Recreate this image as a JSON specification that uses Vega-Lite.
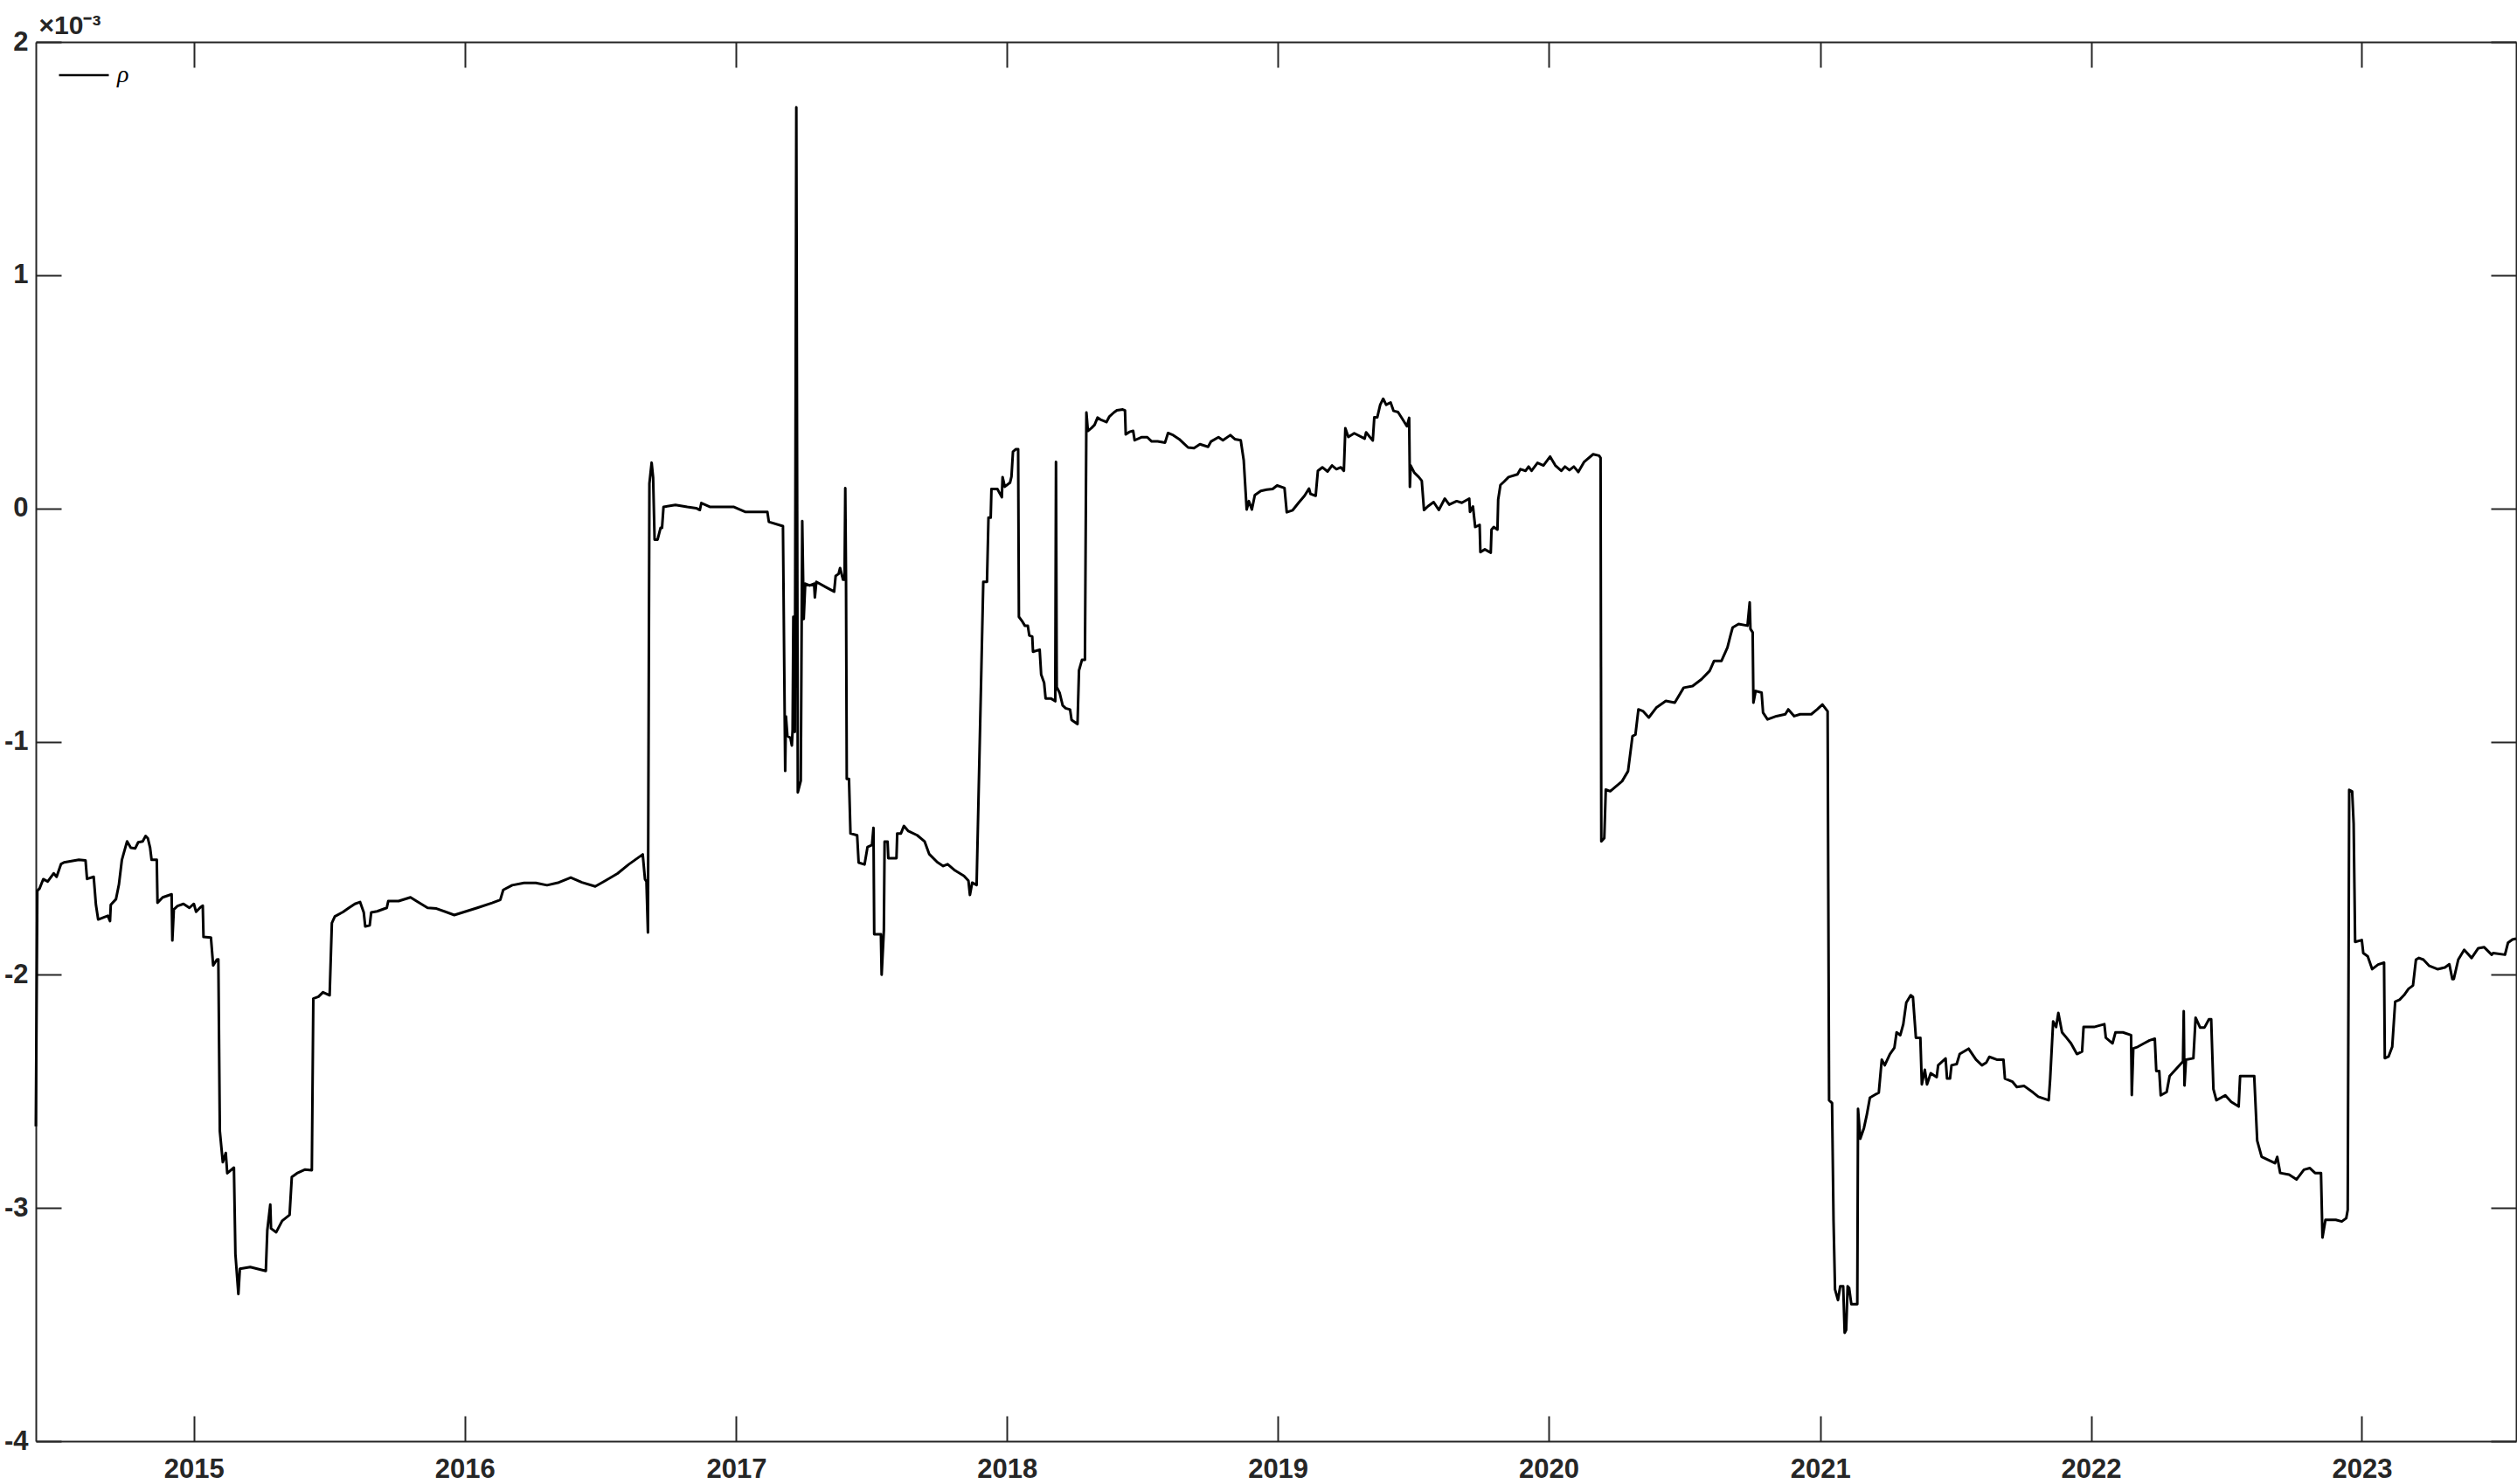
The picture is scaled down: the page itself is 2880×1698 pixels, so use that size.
{
  "$schema": "https://vega.github.io/schema/vega-lite/v6.json",
  "width": 2838,
  "height": 1601,
  "autosize": {"type": "none"},
  "padding": {"left": 41, "top": 48, "right": 1, "bottom": 49},
  "background": "white",
  "config": {"view": {"stroke": null}, "font": "Liberation Sans"},
  "data": {
    "values": [
      {"date": "2014-06-02", "rho": -2.65}, {"date": "2014-06-04", "rho": -1.64}, {"date": "2014-06-07", "rho": -1.63}, {"date": "2014-06-12", "rho": -1.59}, {"date": "2014-06-18", "rho": -1.6}, {"date": "2014-06-26", "rho": -1.565}, {"date": "2014-06-30", "rho": -1.58}, {"date": "2014-07-06", "rho": -1.525}, {"date": "2014-07-10", "rho": -1.518}, {"date": "2014-07-30", "rho": -1.507}, {"date": "2014-08-08", "rho": -1.51}, {"date": "2014-08-10", "rho": -1.589}, {"date": "2014-08-19", "rho": -1.58}, {"date": "2014-08-22", "rho": -1.7}, {"date": "2014-08-25", "rho": -1.763}, {"date": "2014-09-07", "rho": -1.747}, {"date": "2014-09-10", "rho": -1.77}, {"date": "2014-09-11", "rho": -1.7}, {"date": "2014-09-18", "rho": -1.676}, {"date": "2014-09-22", "rho": -1.613}, {"date": "2014-09-26", "rho": -1.507}, {"date": "2014-10-03", "rho": -1.428}, {"date": "2014-10-08", "rho": -1.455}, {"date": "2014-10-14", "rho": -1.458}, {"date": "2014-10-18", "rho": -1.432}, {"date": "2014-10-24", "rho": -1.428}, {"date": "2014-10-28", "rho": -1.405}, {"date": "2014-10-31", "rho": -1.415}, {"date": "2014-11-03", "rho": -1.455}, {"date": "2014-11-05", "rho": -1.507}, {"date": "2014-11-12", "rho": -1.507}, {"date": "2014-11-13", "rho": -1.691}, {"date": "2014-11-20", "rho": -1.668}, {"date": "2014-12-02", "rho": -1.655}, {"date": "2014-12-03", "rho": -1.853}, {"date": "2014-12-05", "rho": -1.72}, {"date": "2014-12-10", "rho": -1.705}, {"date": "2014-12-18", "rho": -1.696}, {"date": "2014-12-26", "rho": -1.713},
      {"date": "2015-01-01", "rho": -1.696}, {"date": "2015-01-04", "rho": -1.73}, {"date": "2015-01-10", "rho": -1.71}, {"date": "2015-01-13", "rho": -1.704}, {"date": "2015-01-14", "rho": -1.838}, {"date": "2015-01-24", "rho": -1.84}, {"date": "2015-01-27", "rho": -1.96}, {"date": "2015-02-01", "rho": -1.935}, {"date": "2015-02-03", "rho": -1.934}, {"date": "2015-02-05", "rho": -2.67}, {"date": "2015-02-09", "rho": -2.804}, {"date": "2015-02-13", "rho": -2.764}, {"date": "2015-02-15", "rho": -2.851}, {"date": "2015-02-24", "rho": -2.827}, {"date": "2015-02-26", "rho": -3.198}, {"date": "2015-03-02", "rho": -3.369}, {"date": "2015-03-04", "rho": -3.261}, {"date": "2015-03-18", "rho": -3.253}, {"date": "2015-04-08", "rho": -3.27}, {"date": "2015-04-10", "rho": -3.096}, {"date": "2015-04-14", "rho": -2.985}, {"date": "2015-04-15", "rho": -3.088}, {"date": "2015-04-22", "rho": -3.104}, {"date": "2015-04-30", "rho": -3.055}, {"date": "2015-05-10", "rho": -3.03}, {"date": "2015-05-13", "rho": -2.867}, {"date": "2015-05-20", "rho": -2.851}, {"date": "2015-05-31", "rho": -2.835}, {"date": "2015-06-09", "rho": -2.838}, {"date": "2015-06-11", "rho": -2.102}, {"date": "2015-06-18", "rho": -2.094}, {"date": "2015-06-24", "rho": -2.075}, {"date": "2015-07-03", "rho": -2.088}, {"date": "2015-07-06", "rho": -1.778}, {"date": "2015-07-10", "rho": -1.75}, {"date": "2015-07-21", "rho": -1.731}, {"date": "2015-07-29", "rho": -1.713}, {"date": "2015-08-06", "rho": -1.696}, {"date": "2015-08-13", "rho": -1.688}, {"date": "2015-08-18", "rho": -1.733}, {"date": "2015-08-20", "rho": -1.793}, {"date": "2015-08-26", "rho": -1.788}, {"date": "2015-08-28", "rho": -1.733}, {"date": "2015-09-05", "rho": -1.728}, {"date": "2015-09-18", "rho": -1.713}, {"date": "2015-09-20", "rho": -1.684}, {"date": "2015-10-04", "rho": -1.684}, {"date": "2015-10-20", "rho": -1.668}, {"date": "2015-10-28", "rho": -1.684}, {"date": "2015-11-12", "rho": -1.713}, {"date": "2015-11-24", "rho": -1.716}, {"date": "2015-12-18", "rho": -1.744},
      {"date": "2016-01-18", "rho": -1.713}, {"date": "2016-02-07", "rho": -1.692}, {"date": "2016-02-18", "rho": -1.679}, {"date": "2016-02-22", "rho": -1.636}, {"date": "2016-03-05", "rho": -1.616}, {"date": "2016-03-21", "rho": -1.606}, {"date": "2016-04-06", "rho": -1.606}, {"date": "2016-04-21", "rho": -1.616}, {"date": "2016-05-07", "rho": -1.604}, {"date": "2016-05-23", "rho": -1.583}, {"date": "2016-06-07", "rho": -1.604}, {"date": "2016-06-25", "rho": -1.621}, {"date": "2016-07-09", "rho": -1.596}, {"date": "2016-07-25", "rho": -1.566}, {"date": "2016-08-09", "rho": -1.527}, {"date": "2016-08-28", "rho": -1.484}, {"date": "2016-08-31", "rho": -1.59}, {"date": "2016-09-02", "rho": -1.6}, {"date": "2016-09-04", "rho": -1.819}, {"date": "2016-09-06", "rho": 0.107}, {"date": "2016-09-09", "rho": 0.196}, {"date": "2016-09-11", "rho": 0.132}, {"date": "2016-09-13", "rho": -0.134}, {"date": "2016-09-17", "rho": -0.134}, {"date": "2016-09-21", "rho": -0.084}, {"date": "2016-09-23", "rho": -0.084}, {"date": "2016-09-25", "rho": 0.006}, {"date": "2016-10-11", "rho": 0.015}, {"date": "2016-10-27", "rho": 0.006}, {"date": "2016-11-08", "rho": 0.001}, {"date": "2016-11-13", "rho": -0.007}, {"date": "2016-11-15", "rho": 0.023}, {"date": "2016-11-27", "rho": 0.006}, {"date": "2016-12-29", "rho": 0.006},
      {"date": "2017-01-13", "rho": -0.015}, {"date": "2017-01-29", "rho": -0.015}, {"date": "2017-02-12", "rho": -0.015}, {"date": "2017-02-14", "rho": -0.058}, {"date": "2017-03-05", "rho": -0.076}, {"date": "2017-03-08", "rho": -1.126}, {"date": "2017-03-09", "rho": -0.892}, {"date": "2017-03-11", "rho": -0.976}, {"date": "2017-03-15", "rho": -0.984}, {"date": "2017-03-17", "rho": -1.017}, {"date": "2017-03-18", "rho": -0.95}, {"date": "2017-03-19", "rho": -0.465}, {"date": "2017-03-21", "rho": -0.959}, {"date": "2017-03-23", "rho": 1.72}, {"date": "2017-03-25", "rho": -1.218}, {"date": "2017-03-29", "rho": -1.168}, {"date": "2017-03-31", "rho": -0.055}, {"date": "2017-04-02", "rho": -0.474}, {"date": "2017-04-04", "rho": -0.323}, {"date": "2017-04-10", "rho": -0.331}, {"date": "2017-04-16", "rho": -0.323}, {"date": "2017-04-17", "rho": -0.382}, {"date": "2017-04-19", "rho": -0.315}, {"date": "2017-05-03", "rho": -0.34}, {"date": "2017-05-13", "rho": -0.357}, {"date": "2017-05-15", "rho": -0.29}, {"date": "2017-05-19", "rho": -0.281}, {"date": "2017-05-21", "rho": -0.256}, {"date": "2017-05-25", "rho": -0.306}, {"date": "2017-05-27", "rho": -0.306}, {"date": "2017-05-28", "rho": 0.087}, {"date": "2017-05-29", "rho": -0.306}, {"date": "2017-05-30", "rho": -1.16}, {"date": "2017-06-02", "rho": -1.16}, {"date": "2017-06-04", "rho": -1.394}, {"date": "2017-06-13", "rho": -1.402}, {"date": "2017-06-15", "rho": -1.519}, {"date": "2017-06-23", "rho": -1.527}, {"date": "2017-06-27", "rho": -1.452}, {"date": "2017-07-03", "rho": -1.444}, {"date": "2017-07-05", "rho": -1.37}, {"date": "2017-07-06", "rho": -1.826}, {"date": "2017-07-15", "rho": -1.826}, {"date": "2017-07-16", "rho": -2.0}, {"date": "2017-07-19", "rho": -1.809}, {"date": "2017-07-20", "rho": -1.429}, {"date": "2017-07-24", "rho": -1.429}, {"date": "2017-07-25", "rho": -1.5}, {"date": "2017-08-05", "rho": -1.5}, {"date": "2017-08-06", "rho": -1.394}, {"date": "2017-08-11", "rho": -1.394}, {"date": "2017-08-15", "rho": -1.362}, {"date": "2017-08-21", "rho": -1.384}, {"date": "2017-09-02", "rho": -1.402}, {"date": "2017-09-12", "rho": -1.429}, {"date": "2017-09-18", "rho": -1.482}, {"date": "2017-09-29", "rho": -1.517}, {"date": "2017-10-07", "rho": -1.534}, {"date": "2017-10-13", "rho": -1.526}, {"date": "2017-10-23", "rho": -1.553}, {"date": "2017-11-04", "rho": -1.576}, {"date": "2017-11-10", "rho": -1.597}, {"date": "2017-11-12", "rho": -1.658}, {"date": "2017-11-15", "rho": -1.605}, {"date": "2017-11-21", "rho": -1.615}, {"date": "2017-11-30", "rho": -0.315}, {"date": "2017-12-05", "rho": -0.315}, {"date": "2017-12-07", "rho": -0.04}, {"date": "2017-12-10", "rho": -0.04}, {"date": "2017-12-11", "rho": 0.083}, {"date": "2017-12-19", "rho": 0.083}, {"date": "2017-12-25", "rho": 0.048}, {"date": "2017-12-26", "rho": 0.134}, {"date": "2017-12-29", "rho": 0.093},
      {"date": "2018-01-05", "rho": 0.11}, {"date": "2018-01-07", "rho": 0.136}, {"date": "2018-01-09", "rho": 0.243}, {"date": "2018-01-13", "rho": 0.254}, {"date": "2018-01-16", "rho": 0.254}, {"date": "2018-01-17", "rho": -0.465}, {"date": "2018-01-21", "rho": -0.482}, {"date": "2018-01-25", "rho": -0.503}, {"date": "2018-01-29", "rho": -0.503}, {"date": "2018-01-31", "rho": -0.545}, {"date": "2018-02-04", "rho": -0.55}, {"date": "2018-02-05", "rho": -0.615}, {"date": "2018-02-14", "rho": -0.606}, {"date": "2018-02-16", "rho": -0.712}, {"date": "2018-02-20", "rho": -0.748}, {"date": "2018-02-22", "rho": -0.815}, {"date": "2018-03-01", "rho": -0.815}, {"date": "2018-03-07", "rho": -0.827}, {"date": "2018-03-08", "rho": 0.199}, {"date": "2018-03-09", "rho": -0.766}, {"date": "2018-03-13", "rho": -0.792}, {"date": "2018-03-17", "rho": -0.845}, {"date": "2018-03-21", "rho": -0.857}, {"date": "2018-03-27", "rho": -0.863}, {"date": "2018-03-29", "rho": -0.907}, {"date": "2018-04-06", "rho": -0.925}, {"date": "2018-04-08", "rho": -0.695}, {"date": "2018-04-12", "rho": -0.65}, {"date": "2018-04-16", "rho": -0.65}, {"date": "2018-04-18", "rho": 0.411}, {"date": "2018-04-20", "rho": 0.332}, {"date": "2018-04-25", "rho": 0.345}, {"date": "2018-04-29", "rho": 0.358}, {"date": "2018-05-03", "rho": 0.389}, {"date": "2018-05-07", "rho": 0.381}, {"date": "2018-05-15", "rho": 0.37}, {"date": "2018-05-19", "rho": 0.394}, {"date": "2018-05-25", "rho": 0.411}, {"date": "2018-05-29", "rho": 0.42}, {"date": "2018-06-06", "rho": 0.424}, {"date": "2018-06-09", "rho": 0.42}, {"date": "2018-06-10", "rho": 0.317}, {"date": "2018-06-15", "rho": 0.328}, {"date": "2018-06-20", "rho": 0.332}, {"date": "2018-06-22", "rho": 0.292}, {"date": "2018-07-01", "rho": 0.305}, {"date": "2018-07-09", "rho": 0.305}, {"date": "2018-07-15", "rho": 0.287}, {"date": "2018-07-23", "rho": 0.287}, {"date": "2018-08-02", "rho": 0.282}, {"date": "2018-08-06", "rho": 0.323}, {"date": "2018-08-13", "rho": 0.314}, {"date": "2018-08-21", "rho": 0.297}, {"date": "2018-09-02", "rho": 0.261}, {"date": "2018-09-10", "rho": 0.258}, {"date": "2018-09-18", "rho": 0.275}, {"date": "2018-09-29", "rho": 0.264}, {"date": "2018-10-03", "rho": 0.287}, {"date": "2018-10-13", "rho": 0.305}, {"date": "2018-10-19", "rho": 0.292}, {"date": "2018-10-29", "rho": 0.314}, {"date": "2018-11-04", "rho": 0.297}, {"date": "2018-11-12", "rho": 0.292}, {"date": "2018-11-16", "rho": 0.207}, {"date": "2018-11-20", "rho": -0.005}, {"date": "2018-11-23", "rho": 0.031}, {"date": "2018-11-27", "rho": -0.005}, {"date": "2018-12-01", "rho": 0.057}, {"date": "2018-12-09", "rho": 0.075}, {"date": "2018-12-17", "rho": 0.08}, {"date": "2018-12-25", "rho": 0.083}, {"date": "2018-12-31", "rho": 0.098},
      {"date": "2019-01-10", "rho": 0.087}, {"date": "2019-01-13", "rho": -0.017}, {"date": "2019-01-21", "rho": -0.008}, {"date": "2019-01-29", "rho": 0.024}, {"date": "2019-02-06", "rho": 0.054}, {"date": "2019-02-12", "rho": 0.085}, {"date": "2019-02-14", "rho": 0.062}, {"date": "2019-02-21", "rho": 0.054}, {"date": "2019-02-24", "rho": 0.161}, {"date": "2019-03-02", "rho": 0.176}, {"date": "2019-03-09", "rho": 0.158}, {"date": "2019-03-15", "rho": 0.184}, {"date": "2019-03-21", "rho": 0.168}, {"date": "2019-03-27", "rho": 0.176}, {"date": "2019-03-31", "rho": 0.161}, {"date": "2019-04-02", "rho": 0.344}, {"date": "2019-04-06", "rho": 0.306}, {"date": "2019-04-14", "rho": 0.322}, {"date": "2019-04-28", "rho": 0.299}, {"date": "2019-04-30", "rho": 0.326}, {"date": "2019-05-05", "rho": 0.306}, {"date": "2019-05-09", "rho": 0.291}, {"date": "2019-05-11", "rho": 0.39}, {"date": "2019-05-15", "rho": 0.39}, {"date": "2019-05-19", "rho": 0.444}, {"date": "2019-05-23", "rho": 0.47}, {"date": "2019-05-27", "rho": 0.444}, {"date": "2019-06-02", "rho": 0.454}, {"date": "2019-06-06", "rho": 0.418}, {"date": "2019-06-12", "rho": 0.413}, {"date": "2019-06-18", "rho": 0.383}, {"date": "2019-06-24", "rho": 0.352}, {"date": "2019-06-27", "rho": 0.388}, {"date": "2019-06-28", "rho": 0.092}, {"date": "2019-06-29", "rho": 0.184}, {"date": "2019-07-04", "rho": 0.153}, {"date": "2019-07-10", "rho": 0.134}, {"date": "2019-07-14", "rho": 0.118}, {"date": "2019-07-17", "rho": -0.007}, {"date": "2019-07-22", "rho": 0.008}, {"date": "2019-07-30", "rho": 0.027}, {"date": "2019-08-06", "rho": -0.007}, {"date": "2019-08-14", "rho": 0.042}, {"date": "2019-08-20", "rho": 0.016}, {"date": "2019-08-30", "rho": 0.031}, {"date": "2019-09-06", "rho": 0.024}, {"date": "2019-09-16", "rho": 0.042}, {"date": "2019-09-17", "rho": -0.015}, {"date": "2019-09-21", "rho": 0.008}, {"date": "2019-09-24", "rho": -0.08}, {"date": "2019-09-30", "rho": -0.071}, {"date": "2019-10-01", "rho": -0.188}, {"date": "2019-10-07", "rho": -0.176}, {"date": "2019-10-15", "rho": -0.19}, {"date": "2019-10-16", "rho": -0.091}, {"date": "2019-10-19", "rho": -0.08}, {"date": "2019-10-24", "rho": -0.091}, {"date": "2019-10-25", "rho": 0.038}, {"date": "2019-10-28", "rho": 0.1}, {"date": "2019-11-02", "rho": 0.115}, {"date": "2019-11-08", "rho": 0.134}, {"date": "2019-11-20", "rho": 0.146}, {"date": "2019-11-24", "rho": 0.168}, {"date": "2019-12-01", "rho": 0.161}, {"date": "2019-12-05", "rho": 0.179}, {"date": "2019-12-09", "rho": 0.161}, {"date": "2019-12-17", "rho": 0.195}, {"date": "2019-12-25", "rho": 0.184},
      {"date": "2020-01-03", "rho": 0.222}, {"date": "2020-01-10", "rho": 0.184}, {"date": "2020-01-18", "rho": 0.161}, {"date": "2020-01-23", "rho": 0.179}, {"date": "2020-01-29", "rho": 0.164}, {"date": "2020-02-04", "rho": 0.179}, {"date": "2020-02-10", "rho": 0.156}, {"date": "2020-02-18", "rho": 0.2}, {"date": "2020-03-01", "rho": 0.232}, {"date": "2020-03-09", "rho": 0.226}, {"date": "2020-03-11", "rho": 0.217}, {"date": "2020-03-12", "rho": -1.428}, {"date": "2020-03-16", "rho": -1.414}, {"date": "2020-03-18", "rho": -1.206}, {"date": "2020-03-24", "rho": -1.213}, {"date": "2020-04-09", "rho": -1.17}, {"date": "2020-04-17", "rho": -1.127}, {"date": "2020-04-23", "rho": -0.977}, {"date": "2020-04-27", "rho": -0.97}, {"date": "2020-05-01", "rho": -0.862}, {"date": "2020-05-07", "rho": -0.869}, {"date": "2020-05-15", "rho": -0.897}, {"date": "2020-05-25", "rho": -0.855}, {"date": "2020-06-07", "rho": -0.826}, {"date": "2020-06-19", "rho": -0.833}, {"date": "2020-07-01", "rho": -0.769}, {"date": "2020-07-13", "rho": -0.762}, {"date": "2020-07-25", "rho": -0.733}, {"date": "2020-08-05", "rho": -0.697}, {"date": "2020-08-11", "rho": -0.654}, {"date": "2020-08-21", "rho": -0.654}, {"date": "2020-08-29", "rho": -0.597}, {"date": "2020-09-02", "rho": -0.546}, {"date": "2020-09-05", "rho": -0.511}, {"date": "2020-09-13", "rho": -0.496}, {"date": "2020-09-25", "rho": -0.503}, {"date": "2020-09-28", "rho": -0.403}, {"date": "2020-09-29", "rho": -0.517}, {"date": "2020-10-02", "rho": -0.532}, {"date": "2020-10-03", "rho": -0.833}, {"date": "2020-10-06", "rho": -0.783}, {"date": "2020-10-14", "rho": -0.79}, {"date": "2020-10-16", "rho": -0.876}, {"date": "2020-10-22", "rho": -0.905}, {"date": "2020-11-03", "rho": -0.891}, {"date": "2020-11-15", "rho": -0.883}, {"date": "2020-11-19", "rho": -0.862}, {"date": "2020-11-27", "rho": -0.891}, {"date": "2020-12-05", "rho": -0.883}, {"date": "2020-12-20", "rho": -0.883}, {"date": "2020-12-28", "rho": -0.862},
      {"date": "2021-01-04", "rho": -0.841}, {"date": "2021-01-11", "rho": -0.87}, {"date": "2021-01-13", "rho": -2.538}, {"date": "2021-01-17", "rho": -2.55}, {"date": "2021-01-19", "rho": -3.056}, {"date": "2021-01-21", "rho": -3.349}, {"date": "2021-01-25", "rho": -3.395}, {"date": "2021-01-28", "rho": -3.336}, {"date": "2021-02-01", "rho": -3.336}, {"date": "2021-02-03", "rho": -3.535}, {"date": "2021-02-05", "rho": -3.523}, {"date": "2021-02-07", "rho": -3.336}, {"date": "2021-02-09", "rho": -3.343}, {"date": "2021-02-12", "rho": -3.413}, {"date": "2021-02-20", "rho": -3.413}, {"date": "2021-02-21", "rho": -2.575}, {"date": "2021-02-24", "rho": -2.703}, {"date": "2021-03-01", "rho": -2.657}, {"date": "2021-03-05", "rho": -2.598}, {"date": "2021-03-09", "rho": -2.527}, {"date": "2021-03-15", "rho": -2.516}, {"date": "2021-03-21", "rho": -2.505}, {"date": "2021-03-25", "rho": -2.364}, {"date": "2021-03-29", "rho": -2.388}, {"date": "2021-04-05", "rho": -2.34}, {"date": "2021-04-11", "rho": -2.313}, {"date": "2021-04-14", "rho": -2.247}, {"date": "2021-04-19", "rho": -2.259}, {"date": "2021-04-23", "rho": -2.212}, {"date": "2021-04-27", "rho": -2.12}, {"date": "2021-05-03", "rho": -2.088}, {"date": "2021-05-06", "rho": -2.095}, {"date": "2021-05-10", "rho": -2.27}, {"date": "2021-05-16", "rho": -2.27}, {"date": "2021-05-18", "rho": -2.47}, {"date": "2021-05-22", "rho": -2.407}, {"date": "2021-05-25", "rho": -2.47}, {"date": "2021-05-30", "rho": -2.422}, {"date": "2021-06-07", "rho": -2.439}, {"date": "2021-06-09", "rho": -2.388}, {"date": "2021-06-19", "rho": -2.359}, {"date": "2021-06-21", "rho": -2.445}, {"date": "2021-06-25", "rho": -2.445}, {"date": "2021-06-27", "rho": -2.388}, {"date": "2021-07-04", "rho": -2.383}, {"date": "2021-07-08", "rho": -2.34}, {"date": "2021-07-20", "rho": -2.317}, {"date": "2021-07-30", "rho": -2.364}, {"date": "2021-08-07", "rho": -2.388}, {"date": "2021-08-13", "rho": -2.376}, {"date": "2021-08-17", "rho": -2.352}, {"date": "2021-08-27", "rho": -2.364}, {"date": "2021-09-05", "rho": -2.364}, {"date": "2021-09-07", "rho": -2.445}, {"date": "2021-09-17", "rho": -2.458}, {"date": "2021-09-23", "rho": -2.481}, {"date": "2021-10-03", "rho": -2.477}, {"date": "2021-10-15", "rho": -2.505}, {"date": "2021-10-22", "rho": -2.523}, {"date": "2021-11-05", "rho": -2.538}, {"date": "2021-11-07", "rho": -2.445}, {"date": "2021-11-11", "rho": -2.2}, {"date": "2021-11-15", "rho": -2.224}, {"date": "2021-11-18", "rho": -2.164}, {"date": "2021-11-23", "rho": -2.247}, {"date": "2021-11-29", "rho": -2.27}, {"date": "2021-12-05", "rho": -2.294}, {"date": "2021-12-13", "rho": -2.34}, {"date": "2021-12-20", "rho": -2.329}, {"date": "2021-12-22", "rho": -2.224},
      {"date": "2022-01-05", "rho": -2.224}, {"date": "2022-01-19", "rho": -2.212}, {"date": "2022-01-21", "rho": -2.27}, {"date": "2022-01-30", "rho": -2.294}, {"date": "2022-02-03", "rho": -2.247}, {"date": "2022-02-13", "rho": -2.247}, {"date": "2022-02-24", "rho": -2.259}, {"date": "2022-02-25", "rho": -2.516}, {"date": "2022-02-27", "rho": -2.316}, {"date": "2022-03-05", "rho": -2.309}, {"date": "2022-03-13", "rho": -2.295}, {"date": "2022-03-21", "rho": -2.281}, {"date": "2022-03-28", "rho": -2.274}, {"date": "2022-03-30", "rho": -2.413}, {"date": "2022-04-03", "rho": -2.413}, {"date": "2022-04-05", "rho": -2.517}, {"date": "2022-04-13", "rho": -2.503}, {"date": "2022-04-17", "rho": -2.434}, {"date": "2022-04-21", "rho": -2.42}, {"date": "2022-05-05", "rho": -2.372}, {"date": "2022-05-06", "rho": -2.156}, {"date": "2022-05-07", "rho": -2.475}, {"date": "2022-05-09", "rho": -2.364}, {"date": "2022-05-19", "rho": -2.358}, {"date": "2022-05-22", "rho": -2.184}, {"date": "2022-05-28", "rho": -2.226}, {"date": "2022-06-03", "rho": -2.226}, {"date": "2022-06-09", "rho": -2.191}, {"date": "2022-06-12", "rho": -2.191}, {"date": "2022-06-15", "rho": -2.49}, {"date": "2022-06-19", "rho": -2.538}, {"date": "2022-07-01", "rho": -2.517}, {"date": "2022-07-09", "rho": -2.545}, {"date": "2022-07-19", "rho": -2.565}, {"date": "2022-07-21", "rho": -2.434}, {"date": "2022-08-09", "rho": -2.434}, {"date": "2022-08-13", "rho": -2.711}, {"date": "2022-08-19", "rho": -2.781}, {"date": "2022-09-06", "rho": -2.808}, {"date": "2022-09-09", "rho": -2.781}, {"date": "2022-09-13", "rho": -2.85}, {"date": "2022-09-25", "rho": -2.857}, {"date": "2022-10-05", "rho": -2.878}, {"date": "2022-10-15", "rho": -2.836}, {"date": "2022-10-23", "rho": -2.829}, {"date": "2022-10-30", "rho": -2.85}, {"date": "2022-11-07", "rho": -2.85}, {"date": "2022-11-09", "rho": -3.127}, {"date": "2022-11-13", "rho": -3.051}, {"date": "2022-11-27", "rho": -3.051}, {"date": "2022-12-05", "rho": -3.058}, {"date": "2022-12-11", "rho": -3.044}, {"date": "2022-12-13", "rho": -3.009}, {"date": "2022-12-15", "rho": -1.207}, {"date": "2022-12-19", "rho": -1.214}, {"date": "2022-12-21", "rho": -1.352}, {"date": "2022-12-23", "rho": -1.859},
      {"date": "2023-01-01", "rho": -1.851}, {"date": "2023-01-03", "rho": -1.907}, {"date": "2023-01-09", "rho": -1.921}, {"date": "2023-01-15", "rho": -1.976}, {"date": "2023-01-23", "rho": -1.956}, {"date": "2023-01-31", "rho": -1.948}, {"date": "2023-02-01", "rho": -2.358}, {"date": "2023-02-06", "rho": -2.351}, {"date": "2023-02-11", "rho": -2.309}, {"date": "2023-02-15", "rho": -2.115}, {"date": "2023-02-21", "rho": -2.107}, {"date": "2023-02-27", "rho": -2.087}, {"date": "2023-03-05", "rho": -2.06}, {"date": "2023-03-11", "rho": -2.046}, {"date": "2023-03-15", "rho": -1.935}, {"date": "2023-03-19", "rho": -1.928}, {"date": "2023-03-25", "rho": -1.935}, {"date": "2023-04-02", "rho": -1.962}, {"date": "2023-04-13", "rho": -1.976}, {"date": "2023-04-23", "rho": -1.969}, {"date": "2023-04-29", "rho": -1.955}, {"date": "2023-05-03", "rho": -2.018}, {"date": "2023-05-05", "rho": -2.018}, {"date": "2023-05-11", "rho": -1.935}, {"date": "2023-05-19", "rho": -1.893}, {"date": "2023-05-29", "rho": -1.928}, {"date": "2023-06-07", "rho": -1.886}, {"date": "2023-06-15", "rho": -1.882}, {"date": "2023-06-25", "rho": -1.914}, {"date": "2023-06-27", "rho": -1.907}, {"date": "2023-07-13", "rho": -1.914}, {"date": "2023-07-17", "rho": -1.863}, {"date": "2023-07-23", "rho": -1.849}, {"date": "2023-07-28", "rho": -1.845}
    ]
  },
  "layer": [
    {
      "mark": {"type": "line", "color": "#000000", "strokeWidth": 3, "strokeJoin": "round"},
      "encoding": {
        "x": {
          "field": "date", "type": "temporal",
          "scale": {"type": "utc", "domain": [{"year": 2014, "month": 6, "date": 2, "utc": true}, {"year": 2023, "month": 7, "date": 28, "utc": true}], "nice": false},
          "axis": {
            "orient": "bottom", "title": null, "grid": false,
            "values": [{"year": 2015, "month": 1, "date": 1, "utc": true}, {"year": 2016, "month": 1, "date": 1, "utc": true}, {"year": 2017, "month": 1, "date": 1, "utc": true}, {"year": 2018, "month": 1, "date": 1, "utc": true}, {"year": 2019, "month": 1, "date": 1, "utc": true}, {"year": 2020, "month": 1, "date": 1, "utc": true}, {"year": 2021, "month": 1, "date": 1, "utc": true}, {"year": 2022, "month": 1, "date": 1, "utc": true}, {"year": 2023, "month": 1, "date": 1, "utc": true}],
            "format": "%Y", "formatType": "utc",
            "labelFont": "Liberation Sans", "labelFontWeight": "bold", "labelFontSize": 31, "labelColor": "#262626",
            "labelPadding": 46, "labelOverlap": false, "labelFlush": false, "labelBaseline": "top",
            "tickSize": -29, "tickWidth": 2, "tickColor": "#262626",
            "domainColor": "#262626", "domainWidth": 2
          }
        },
        "y": {
          "field": "rho", "type": "quantitative",
          "scale": {"domain": [-4, 2], "nice": false, "zero": false},
          "axis": {
            "orient": "left", "grid": false,
            "title": "×10⁻³", "titleAngle": 0, "titleAlign": "left", "titleBaseline": "alphabetic",
            "titleX": 3, "titleY": -10, "titleFont": "Liberation Sans", "titleFontSize": 30, "titleFontWeight": "bold", "titleColor": "#262626",
            "values": [-4, -3, -2, -1, 0, 1, 2],
            "labelExpr": "'' + datum.value",
            "labelFont": "Liberation Sans", "labelFontWeight": "bold", "labelFontSize": 31, "labelColor": "#262626",
            "labelPadding": 38, "labelFlush": false, "labelOverlap": false,
            "tickSize": -29, "tickWidth": 2, "tickColor": "#262626",
            "domainColor": "#262626", "domainWidth": 2
          }
        },
        "color": {
          "datum": "ρ",
          "scale": {"range": ["#000000"]},
          "legend": {
            "title": null, "orient": "none", "legendX": 25, "legendY": 8,
            "symbolType": "stroke", "symbolSize": 3249, "symbolStrokeWidth": 2.5, "symbolStrokeColor": "#000000",
            "labelFont": "Liberation Serif", "labelFontStyle": "italic", "labelFontSize": 28, "labelColor": "#000000",
            "labelOffset": 8, "padding": 0
          }
        }
      }
    },
    {
      "mark": {"type": "line", "strokeOpacity": 0},
      "encoding": {
        "x": {
          "field": "date", "type": "temporal",
          "axis": {
            "orient": "top", "title": null, "grid": false, "labels": false,
            "values": [{"year": 2015, "month": 1, "date": 1, "utc": true}, {"year": 2016, "month": 1, "date": 1, "utc": true}, {"year": 2017, "month": 1, "date": 1, "utc": true}, {"year": 2018, "month": 1, "date": 1, "utc": true}, {"year": 2019, "month": 1, "date": 1, "utc": true}, {"year": 2020, "month": 1, "date": 1, "utc": true}, {"year": 2021, "month": 1, "date": 1, "utc": true}, {"year": 2022, "month": 1, "date": 1, "utc": true}, {"year": 2023, "month": 1, "date": 1, "utc": true}],
            "tickSize": -29, "tickWidth": 2, "tickColor": "#262626",
            "domainColor": "#262626", "domainWidth": 2
          }
        },
        "y": {
          "field": "rho", "type": "quantitative",
          "axis": {
            "orient": "right", "title": null, "grid": false, "labels": false,
            "values": [-4, -3, -2, -1, 0, 1, 2],
            "tickSize": -29, "tickWidth": 2, "tickColor": "#262626",
            "domainColor": "#262626", "domainWidth": 2
          }
        }
      }
    }
  ],
  "resolve": {"axis": {"x": "independent", "y": "independent"}}
}
